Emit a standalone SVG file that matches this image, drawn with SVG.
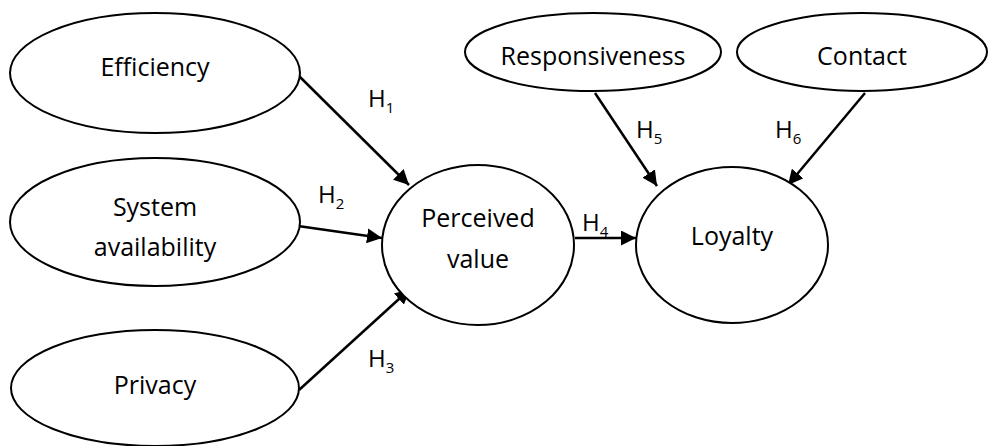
<svg xmlns="http://www.w3.org/2000/svg" width="1002" height="446" viewBox="0 0 1002 446">
<style>
.n ellipse{fill:#fff;stroke:#000;stroke-width:2}
text{font-family:"Open Sans","DejaVu Sans",sans-serif;font-size:25px;fill:#000}
.t{text-anchor:middle}
.h{font-size:24px}
.s{font-size:15px}
#edges line{stroke:#000;stroke-width:2.5;marker-end:url(#ah)}
</style>
<defs>
<marker id="ah" viewBox="0 0 10 10" refX="10" refY="5" markerWidth="6" markerHeight="6" markerUnits="strokeWidth" orient="auto">
<path d="M0,0 L10,5 L0,10 z" fill="#000"/>
</marker>
</defs>
<g id="edges">
<line x1="299" y1="76" x2="409" y2="185"/>
<line x1="298" y1="226" x2="382" y2="238"/>
<line x1="299" y1="390" x2="410" y2="289"/>
<line x1="575" y1="238" x2="636" y2="238"/>
<line x1="595" y1="93" x2="657" y2="186"/>
<line x1="865" y1="93" x2="788" y2="185"/>
</g>
<g id="labels">
<text class="h" x="368" y="107">H<tspan class="s" dy="6">1</tspan></text>
<text class="h" x="318" y="203">H<tspan class="s" dy="6">2</tspan></text>
<text class="h" x="368" y="367">H<tspan class="s" dy="6">3</tspan></text>
<text class="h" x="582" y="231">H<tspan class="s" dy="6">4</tspan></text>
<text class="h" x="636" y="138">H<tspan class="s" dy="6">5</tspan></text>
<text class="h" x="775" y="138">H<tspan class="s" dy="6">6</tspan></text>
</g>
<g id="efficiency" class="n"><ellipse cx="155" cy="73" rx="145" ry="60"/><text class="t" x="155" y="76">Efficiency</text></g>
<g id="system" class="n"><ellipse cx="155" cy="222" rx="145" ry="64"/><text class="t" x="155" y="216">System</text><text class="t" x="155" y="256">availability</text></g>
<g id="privacy" class="n"><ellipse cx="155" cy="388" rx="144" ry="58"/><text class="t" x="155" y="394">Privacy</text></g>
<g id="perceived" class="n"><ellipse cx="478" cy="245" rx="96" ry="80"/><text class="t" x="478" y="227">Perceived</text><text class="t" x="478" y="268">value</text></g>
<g id="loyalty" class="n"><ellipse cx="732" cy="245" rx="96" ry="78"/><text class="t" x="732" y="245">Loyalty</text></g>
<g id="responsiveness" class="n"><ellipse cx="593" cy="52" rx="128" ry="39"/><text class="t" x="593" y="65">Responsiveness</text></g>
<g id="contact" class="n"><ellipse cx="862" cy="52" rx="125" ry="39"/><text class="t" x="862" y="65">Contact</text></g>
</svg>
